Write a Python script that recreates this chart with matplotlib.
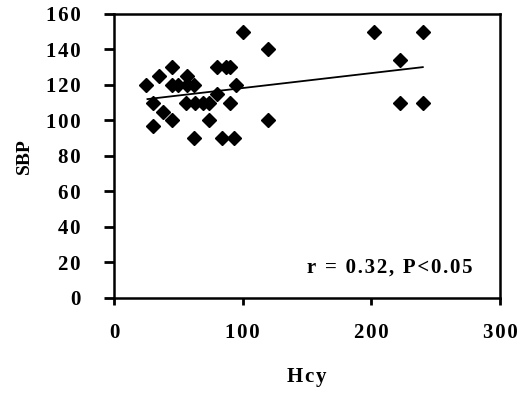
import matplotlib
matplotlib.use("Agg")
import matplotlib.pyplot as plt
from matplotlib.ticker import FuncFormatter

# Hcy vs SBP
hcy = [100, 120, 45, 80, 87, 90, 35, 57, 25, 45, 50, 57, 62, 95, 80,
       30, 56, 63, 69, 74, 90, 38, 45, 74, 120, 30, 62, 84, 93,
       202, 240, 222, 222, 240]
sbp = [150, 140, 130, 130, 130, 130, 125, 125, 120, 120, 120, 120, 120, 120, 115,
       110, 110, 110, 110, 110, 110, 105, 100, 100, 100, 97, 90, 90, 90,
       150, 150, 134, 110, 110]

# regression line end points
fit_x = [26, 240]
fit_y = [112, 130]

xticks = [0, 100, 200, 300]
yticks = [0, 20, 40, 60, 80, 100, 120, 140, 160]

plt.rcParams["font.family"] = ["Liberation Serif", "DejaVu Serif"]
plt.rcParams["font.weight"] = "bold"

HS = "\u200a"  # hair space, the scan has loosely spaced letters


def spaced(s):
    return HS.join(s)


fig = plt.figure(figsize=(5.23, 3.96), dpi=100)
ax = fig.add_axes([0.218, 0.2475, 0.738, 0.7175])

ax.plot(hcy, sbp, linestyle="none", marker="D", markersize=7.3, color="black")
ax.plot(fit_x, fit_y, color="black", linewidth=1.3)

ax.set_xlim(0, 300)
ax.set_ylim(0, 160)
ax.set_xticks(xticks)
ax.set_yticks(yticks)
fmt = FuncFormatter(lambda v, p: spaced(str(int(v))))
ax.xaxis.set_major_formatter(fmt)
ax.yaxis.set_major_formatter(fmt)
ax.tick_params(axis="y", direction="out", length=7, width=2, labelsize=15, pad=17)
ax.tick_params(axis="x", direction="out", length=5, width=2, labelsize=15, pad=13)
for s in ax.spines.values():
    s.set_linewidth(1.8)

ax.set_xlabel(spaced("Hcy"), fontsize=15, fontweight="bold", labelpad=17)
ax.set_ylabel("SBP", fontsize=14, fontweight="bold", labelpad=9)

ax.text(279, 17, spaced("r = 0.32, P<0.05"), fontsize=15, fontweight="bold",
        ha="right", va="center")

fig.savefig("out.png", dpi=100)
